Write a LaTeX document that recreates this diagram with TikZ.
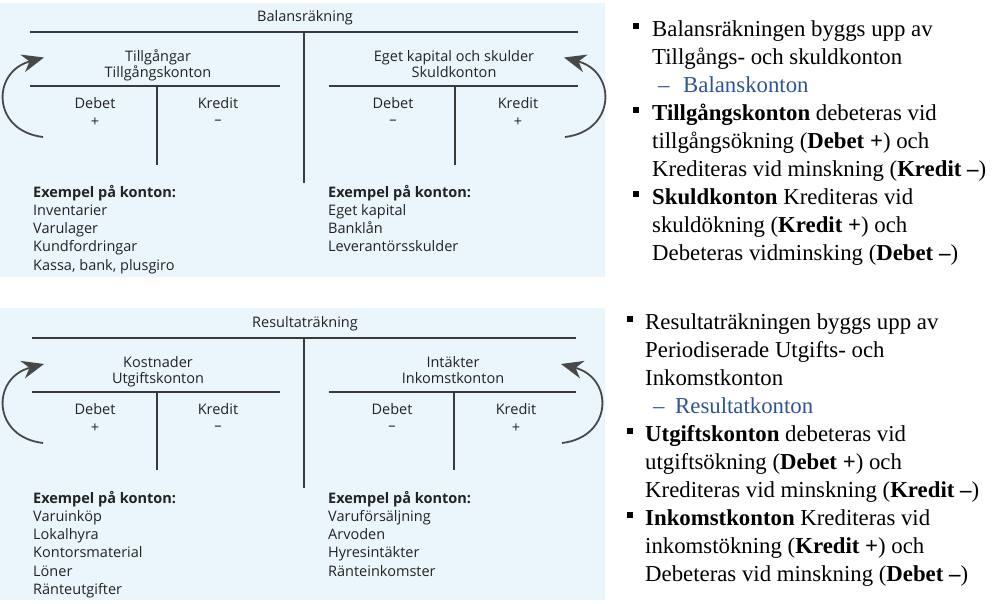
\documentclass[tikz,border=0pt]{standalone}
\usepackage{fontspec}
\setmainfont{Liberation Serif}
\newfontfamily\pfont{Open Sans}
\usetikzlibrary{arrows.meta}
\definecolor{panelbg}{RGB}{235,245,252}
\definecolor{linecol}{RGB}{58,58,58}
\definecolor{txtcol}{RGB}{35,35,35}
\definecolor{arrcol}{RGB}{72,72,72}
\definecolor{subblue}{RGB}{46,84,150}
\tikzset{
  tline/.style={draw=linecol, line width=2.3pt},
  ptext/.style={font=\pfont\fontsize{14.5}{17}\selectfont, text=txtcol, inner sep=0pt},
  ptextb/.style={ptext, font=\pfont\bfseries\fontsize{14.5}{17}\selectfont},
  cyc/.style={draw=arrcol, line width=1.8pt, -{Stealth[length=22pt, width=18pt, inset=7pt]}},
  rtext/.style={font=\fontsize{22.8}{28}\selectfont, text=black, inner sep=0pt, anchor=base west},
  subtext/.style={rtext, text=subblue},
  sq/.style={fill=black, minimum size=6.5pt, inner sep=0pt}
}
\begin{document}
\begin{tikzpicture}[x=1pt, y=-1pt]
\useasboundingbox (0,0) rectangle (994,603);
% ---------- panel backgrounds
\fill[panelbg] (0,3) rectangle (605,277);
\fill[panelbg] (0,308) rectangle (605,600);

% ================= Balansräkning =================
\node[ptext, anchor=base] (bt) at (305,21) {Balansräkning};
\coordinate (bTL) at (30,32);
\coordinate (bTR) at (578,32);
\coordinate (bTM) at (304,32);
\coordinate (bTB) at (304,183);
\draw[tline] (bTL) -- (bTR);
\draw[tline] (bTM) -- (bTB);
% left T
\node[ptext, anchor=base] (bl1) at (158,61) {Tillgångar};
\node[ptext, anchor=base] (bl2) at (158,77.5) {Tillgångskonton};
\coordinate (blL) at (30,86);
\coordinate (blR) at (280,86);
\coordinate (blM) at (157,86);
\coordinate (blB) at (157,165);
\draw[tline] (blL) -- (blR);
\draw[tline] (blM) -- (blB);
\node[ptext, anchor=base] (bld) at (95,108) {Debet};
\node[ptext, anchor=base] (blk) at (218,108) {Kredit};
\node[ptext] (bldp) at (95,122) {+};
\node[ptext] (blkm) at (218,122) {–};
% right T
\node[ptext, anchor=base] (br1) at (454,61) {Eget kapital och skulder};
\node[ptext, anchor=base] (br2) at (454,77.5) {Skuldkonton};
\coordinate (brL) at (329,86);
\coordinate (brR) at (578,86);
\coordinate (brM) at (455,86);
\coordinate (brB) at (455,165);
\draw[tline] (brL) -- (brR);
\draw[tline] (brM) -- (brB);
\node[ptext, anchor=base] (brd) at (393,108) {Debet};
\node[ptext, anchor=base] (brk) at (518,108) {Kredit};
\node[ptext] (brdm) at (393,122) {–};
\node[ptext] (brkp) at (518,122) {+};
% cycle arrows
\coordinate (ba1s) at (43,137);
\coordinate (ba1e) at (44,57.5);
\draw[cyc] (ba1s) .. controls (-8,131) and (-9,72) .. (ba1e);
\coordinate (ba2s) at (565,137);
\coordinate (ba2e) at (564,57.5);
\draw[cyc] (ba2s) .. controls (616,131) and (617,72) .. (ba2e);
% examples
\node[ptextb, anchor=base west] (bex1) at (33,197) {Exempel på konton:};
\node[ptext, anchor=base west] (bex2) at (33,215.5) {Inventarier};
\node[ptext, anchor=base west] (bex3) at (33,233.7) {Varulager};
\node[ptext, anchor=base west] (bex4) at (33,251.9) {Kundfordringar};
\node[ptext, anchor=base west] (bex5) at (33,270.1) {Kassa, bank, plusgiro};
\node[ptextb, anchor=base west] (bey1) at (328,197) {Exempel på konton:};
\node[ptext, anchor=base west] (bey2) at (328,215.5) {Eget kapital};
\node[ptext, anchor=base west] (bey3) at (328,233.7) {Banklån};
\node[ptext, anchor=base west] (bey4) at (328,251.9) {Leverantörsskulder};

% ================= Resultaträkning =================
\node[ptext, anchor=base] (rt) at (305,327) {Resultaträkning};
\coordinate (rTL) at (32,338);
\coordinate (rTR) at (576,338);
\coordinate (rTM) at (304,338);
\coordinate (rTB) at (304,488);
\draw[tline] (rTL) -- (rTR);
\draw[tline] (rTM) -- (rTB);
% left T
\node[ptext, anchor=base] (rl1) at (158,367) {Kostnader};
\node[ptext, anchor=base] (rl2) at (158,383.5) {Utgiftskonton};
\coordinate (rlL) at (32,392);
\coordinate (rlR) at (280,392);
\coordinate (rlM) at (157,392);
\coordinate (rlB) at (157,470);
\draw[tline] (rlL) -- (rlR);
\draw[tline] (rlM) -- (rlB);
\node[ptext, anchor=base] (rld) at (95,414) {Debet};
\node[ptext, anchor=base] (rlk) at (218,414) {Kredit};
\node[ptext] (rldp) at (95,428) {+};
\node[ptext] (rlkm) at (218,428) {–};
% right T
\node[ptext, anchor=base] (rr1) at (453,367) {Intäkter};
\node[ptext, anchor=base] (rr2) at (453,383.5) {Inkomstkonton};
\coordinate (rrL) at (329,392);
\coordinate (rrR) at (576,392);
\coordinate (rrM) at (454,392);
\coordinate (rrB) at (454,470);
\draw[tline] (rrL) -- (rrR);
\draw[tline] (rrM) -- (rrB);
\node[ptext, anchor=base] (rrd) at (392,414) {Debet};
\node[ptext, anchor=base] (rrk) at (516,414) {Kredit};
\node[ptext] (rrdm) at (392,428) {–};
\node[ptext] (rrkp) at (516,428) {+};
% cycle arrows
\coordinate (ra1s) at (43,443);
\coordinate (ra1e) at (44,364);
\draw[cyc] (ra1s) .. controls (-8,437) and (-9,378) .. (ra1e);
\coordinate (ra2s) at (562,443);
\coordinate (ra2e) at (561,364);
\draw[cyc] (ra2s) .. controls (613,437) and (614,378) .. (ra2e);
% examples
\node[ptextb, anchor=base west] (rex1) at (33,503) {Exempel på konton:};
\node[ptext, anchor=base west] (rex2) at (33,521.5) {Varuinköp};
\node[ptext, anchor=base west] (rex3) at (33,539.7) {Lokalhyra};
\node[ptext, anchor=base west] (rex4) at (33,557.9) {Kontorsmaterial};
\node[ptext, anchor=base west] (rex5) at (33,576.1) {Löner};
\node[ptext, anchor=base west] (rex6) at (33,594.3) {Ränteutgifter};
\node[ptextb, anchor=base west] (rey1) at (328,503) {Exempel på konton:};
\node[ptext, anchor=base west] (rey2) at (328,521.5) {Varuförsäljning};
\node[ptext, anchor=base west] (rey3) at (328,539.7) {Arvoden};
\node[ptext, anchor=base west] (rey4) at (328,557.9) {Hyresintäkter};
\node[ptext, anchor=base west] (rey5) at (328,576.1) {Ränteinkomster};

% ================= right text, top =================
\node[sq] (tb1) at (636,26) {};
\node[rtext] (t1) at (652,36) {Balansräkningen byggs upp av};
\node[rtext] (t2) at (652,64) {Tillgångs- och skuldkonton};
\node[subtext] (t3d) at (658,92) {–};
\node[subtext] (t3) at (683,92) {Balanskonton};
\node[sq] (tb2) at (636,110) {};
\node[rtext] (t4) at (652,120) {\textbf{Tillgångskonton} debeteras vid};
\node[rtext] (t5) at (652,148) {tillgångsökning (\textbf{Debet +}) och};
\node[rtext] (t6) at (652,176) {Krediteras vid minskning (\textbf{Kredit –})};
\node[sq] (tb3) at (636,194) {};
\node[rtext] (t7) at (652,204) {\textbf{Skuldkonton} Krediteras vid};
\node[rtext] (t8) at (652,232) {skuldökning (\textbf{Kredit +}) och};
\node[rtext] (t9) at (652,260) {Debeteras vidminsking (\textbf{Debet –})};

% ================= right text, bottom =================
\node[sq] (ub1) at (630,319) {};
\node[rtext] (u1) at (645,329) {Resultaträkningen byggs upp av};
\node[rtext] (u2) at (645,357) {Periodiserade Utgifts- och};
\node[rtext] (u3) at (645,385) {Inkomstkonton};
\node[subtext] (u4d) at (653,413) {–};
\node[subtext] (u4) at (675,413) {Resultatkonton};
\node[sq] (ub2) at (630,431) {};
\node[rtext] (u5) at (645,441) {\textbf{Utgiftskonton} debeteras vid};
\node[rtext] (u6) at (645,469) {utgiftsökning (\textbf{Debet +}) och};
\node[rtext] (u7) at (645,497) {Krediteras vid minskning (\textbf{Kredit –})};
\node[sq] (ub3) at (630,515) {};
\node[rtext] (u8) at (645,525) {\textbf{Inkomstkonton} Krediteras vid};
\node[rtext] (u9) at (645,553) {inkomstökning (\textbf{Kredit +}) och};
\node[rtext] (u10) at (645,581) {Debeteras vid minskning (\textbf{Debet –})};
\end{tikzpicture}
\end{document}
